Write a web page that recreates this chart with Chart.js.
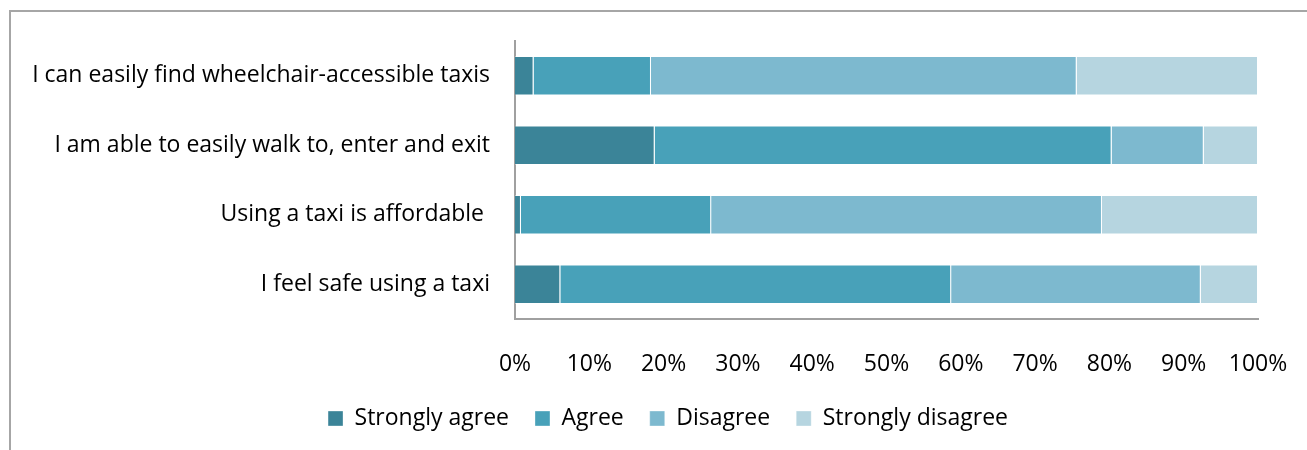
<!DOCTYPE html>
<html>
<head>
<meta charset="utf-8">
<script src="https://cdn.jsdelivr.net/npm/chart.js@4"></script>
<style>
  html, body { margin: 0; padding: 0; background: #fff; }
  #wrap { position: relative; width: 1307px; height: 450px; overflow: hidden; }
  #frame { position: absolute; left: 9px; top: 10px; width: 1400px; height: 500px;
           border-left: 2px solid #a6a6a6; border-top: 2px solid #a6a6a6; }
  canvas { position: absolute; left: 0; top: 0; }
</style>
</head>
<body>
<div id="wrap">
  <div id="frame"></div>
  <canvas id="surveyChart" width="1307" height="450"></canvas>
</div>
<script>
const categories = [
    'I can easily find wheelchair-accessible taxis',
    'I am able to easily walk to, enter and exit',
    'Using a taxi is affordable ',
    'I feel safe using a taxi'
];
const stronglyAgree = [2.5, 18.8, 0.8, 6.1];
const agree = [15.8, 61.5, 25.6, 52.6];
const disagree = [57.3, 12.4, 52.6, 33.6];
const stronglyDisagree = [24.4, 7.3, 21.0, 7.7];
const xTicks = ['0%', '10%', '20%', '30%', '40%', '50%', '60%', '70%', '80%', '90%', '100%'];

const font = { family: 'Open Sans', size: 23 };

// nudge the legend a bit right, like the original
const legendShift = {
    id: 'legendShift',
    afterLayout(chart) {
        chart.legend.left += 30;
        chart.legend.right += 30;
    }
};

const ctx = document.getElementById('surveyChart').getContext('2d');
const surveyChart = new Chart(ctx, {
    type: 'bar',
    data: {
        labels: categories,
        datasets: [
            { label: 'Strongly agree', data: stronglyAgree, backgroundColor: '#3b8498' },
            { label: 'Agree', data: agree, backgroundColor: '#48a1b9' },
            { label: 'Disagree', data: disagree, backgroundColor: '#7db9cf' },
            { label: 'Strongly disagree', data: stronglyDisagree, backgroundColor: '#b6d5e0' }
        ].map(d => Object.assign(d, {
            borderColor: 'rgba(255,255,255,0.35)',
            borderWidth: 1,
            barPercentage: 0.57,
            categoryPercentage: 1
        }))
    },
    plugins: [legendShift],
    options: {
        indexAxis: 'y',
        responsive: false,
        animation: false,
        layout: { padding: { left: 18, top: 41, right: 49, bottom: 10 } },
        plugins: {
            legend: {
                position: 'bottom',
                labels: {
                    color: '#000',
                    font: font,
                    boxWidth: 15,
                    boxHeight: 15,
                    padding: 26
                }
            },
            tooltip: { enabled: false }
        },
        scales: {
            x: {
                stacked: true,
                min: 0,
                max: 100,
                grid: { display: false, drawTicks: false },
                border: { display: true, color: '#a0a0a0', width: 2 },
                ticks: {
                    stepSize: 10,
                    color: '#000',
                    font: font,
                    padding: 32,
                    maxRotation: 0,
                    callback: (v) => xTicks[Math.round(v / 10)]
                },
                afterFit: (s) => {
                    s.height = 62;
                    s.paddingLeft = 0;
                    s.paddingRight = 0;
                }
            },
            y: {
                stacked: true,
                grid: { display: false, drawTicks: false },
                border: { display: true, color: '#a0a0a0', width: 2 },
                ticks: { color: '#000', font: font, padding: 25 },
                afterFit: (s) => { s.width = 497; }
            }
        }
    }
});
</script>
</body>
</html>
